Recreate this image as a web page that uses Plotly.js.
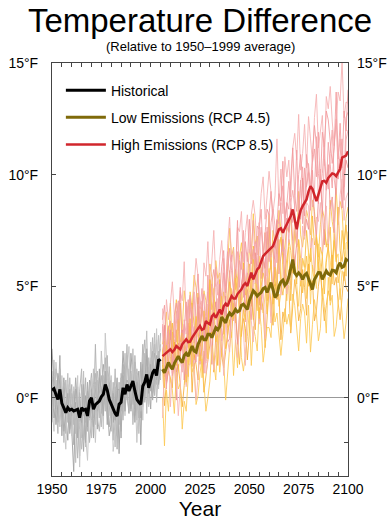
<!DOCTYPE html>
<html>
<head>
<meta charset="utf-8">
<script src="https://cdn.plot.ly/plotly-3.0.1.min.js"></script>
<style>html,body{margin:0;padding:0;background:#fff;}#chart{width:392px;height:522px;}</style>
</head>
<body>
<div id="chart"></div>
<script>
// ---------- DATA ----------
const histStart = 1950, histEnd = 2005;
const futStart = 2006, futEnd = 2100;

const historicalMean = [
 0.34,0.41,0.15,-0.07,0.38,-0.25,-0.45,-0.66,-0.44,-0.55,
 -0.51,-0.59,-0.55,-0.51,-0.89,-0.44,-0.55,-0.51,-0.81,-0.14,
 0.01,-0.51,-0.30,-0.22,-0.14,0.05,0.16,0.60,0.35,-0.07,
 -0.30,-0.51,-0.70,-0.81,-0.29,-0.20,0.45,0.16,0.60,0.31,
 0.50,0.75,0.31,-0.07,-0.20,-0.29,0.52,0.70,1.05,0.45,
 0.80,1.12,1.27,1.00,1.72,1.64];

const histMember1 = [1.2,-0.4,0.8,-1.1,0.5,-0.9,0.3,-1.6,-0.2,-1.0, -0.3,-2.1,0.4,-1.2,-2.6,0.6,-0.8,0.9,-1.5,0.2, 1.1,-0.9,2.4,-0.6,0.3,1.0,-0.5,1.8,0.2,-1.3, -0.4,-1.9,0.5,-2.3,0.7,-0.6,1.5,-0.2,1.9,0.4, 1.2,0.1,1.6,-1.0,0.8,-0.9,1.7,2.6,0.5,1.4, 0.3,2.1,0.9,2.6,1.2,2.9];
const histMember2 = [-0.8,1.7,-0.5,0.9,-1.3,0.4,-2.0,-0.3,1.1,-1.4, 0.2,-0.6,-2.9,0.5,-1.1,-1.8,1.2,-2.2,-0.4,-1.0, -0.6,1.3,-1.2,0.8,-0.9,2.1,0.6,-0.3,1.2,0.9, -1.5,0.3,-2.2,0.4,-1.2,1.1,-0.5,2.0,-0.1,1.3, -0.2,2.2,-0.8,1.0,-1.6,0.6,-0.4,1.1,3.0,-0.3, 1.8,0.5,2.4,0.6,2.8,1.0];
const histMember3 = [2.2,0.6,-1.2,-0.3,1.9,-1.7,0.9,-0.8,-1.9,0.4, -1.2,-3.3,-0.2,-1.8,0.2,-0.9,-2.4,0.1,-1.3,0.8, 0.4,-1.8,0.7,-1.4,1.3,-0.7,1.5,0.9,-1.2,0.6, 0.8,-1.1,-0.3,0.9,-2.5,0.2,2.1,0.6,0.2,-0.7, 2.0,0.9,-0.5,0.3,1.2,-2.1,1.5,-0.1,1.9,0.7, -0.5,1.6,2.0,0.8,1.9,2.2];
const histMember4 = [-0.4,-1.5,1.6,0.2,-0.7,1.0,-1.1,-2.3,0.6,-0.5, -1.7,0.5,-1.3,1.0,-3.1,0.1,-0.5,-1.6,-2.8,-0.3, 0.9,-0.4,-2.0,0.3,-0.2,0.5,-1.4,2.9,0.7,-0.8, 1.0,-2.4,-1.6,-0.9,0.6,-1.5,0.4,-0.8,1.2,2.3, -0.5,1.5,0.8,-2.0,0.1,1.3,-1.0,1.8,0.3,-0.4, 2.5,0.2,0.7,3.1,0.4,1.6];
const histMember5 = [0.9,1.0,-0.2,-1.6,1.3,-0.3,0.7,0.4,-1.1,-0.7, 0.6,-1.2,-0.9,-2.7,0.3,1.3,-1.9,-0.4,0.3,-2.0, -1.0,0.6,1.1,-0.9,-1.5,-0.2,0.8,-0.6,1.9,-0.4, -0.9,0.7,-0.8,-1.7,0.1,0.9,-0.4,1.3,0.5,-0.6, 0.7,-0.3,1.9,0.5,-0.9,0.2,2.4,-0.2,1.3,1.1, 1.2,2.7,0.1,1.5,2.1,0.8];
const histMember6 = [-1.1,0.2,1.3,0.7,-0.4,-1.2,-0.6,0.8,-0.9,0.9, -0.8,0.3,-1.6,-0.5,-1.4,-2.3,0.2,-1.1,-0.6,0.4, -1.8,0.1,0.5,1.2,-0.5,-1.3,1.0,0.4,-0.7,1.4, -0.2,-0.8,1.3,-1.1,-0.7,0.5,-1.0,0.9,2.4,-0.1, 1.1,-1.2,0.4,1.3,0.6,-0.6,0.9,2.0,-0.7,1.8, 0.9,1.3,2.9,-0.2,1.4,2.4];
const histMember7 = [0.5,-0.9,-0.3,1.1,0.6,-0.1,-1.5,-0.6,0.2,-1.6, -0.4,-0.7,0.9,-0.6,-0.8,-1.1,0.6,-2.0,0.7,-0.9, 0.2,-1.3,-0.4,-0.2,0.9,0.4,-0.8,1.2,-0.3,-1.7, -1.2,0.2,-1.0,0.3,0.4,-1.8,1.0,-0.6,0.8,0.6, -0.6,0.5,-1.1,0.7,-0.3,1.6,-0.2,0.6,2.2,0.2, 1.5,-0.1,1.2,1.9,0.6,1.3];

const lowMean = [
 1.28,1.13,1.35,1.58,
 1.42,1.28,1.55,1.75,1.87,1.70,1.58,1.90,2.00,1.87,
 2.10,2.32,2.10,2.05,2.40,2.60,2.77,2.60,2.60,2.85,
 2.85,2.70,2.95,3.14,3.05,3.20,3.62,3.50,3.36,3.65,
 3.80,3.70,3.80,3.96,3.85,3.90,4.15,4.20,4.05,3.96,
 4.35,4.60,4.80,4.70,4.56,4.65,4.72,4.90,4.95,4.72,
 4.95,5.16,4.85,4.50,4.60,5.00,5.20,5.28,5.05,5.15,
 5.40,5.80,6.20,5.60,5.48,5.60,5.50,5.31,5.50,5.58,
 5.35,5.10,4.86,5.30,5.50,5.62,5.60,5.31,5.50,5.68,
 5.55,5.50,5.72,5.70,5.61,5.90,6.05,5.85,5.90,6.20,
 6.13];

const highMean = [
 1.87,1.95,2.02,2.10,
 2.17,2.05,2.15,2.32,2.22,2.17,2.40,2.50,2.62,2.50,
 2.52,2.70,2.85,2.99,3.10,3.22,3.05,3.10,3.44,3.35,
 3.29,3.65,3.75,3.59,3.80,3.96,3.74,4.10,4.22,4.11,
 4.35,4.56,4.45,4.45,4.65,4.75,4.86,5.05,5.14,5.01,
 5.30,5.61,5.31,5.55,5.75,5.85,6.10,6.35,6.45,6.55,
 6.62,6.70,6.80,7.05,7.30,7.55,7.60,7.40,7.60,7.77,
 7.95,8.15,8.44,8.00,7.55,8.05,8.40,8.59,8.75,8.89,
 9.25,9.48,9.35,9.10,8.81,9.10,9.40,9.70,9.72,9.63,
 9.85,9.95,10.05,10.02,9.93,10.10,10.25,10.76,10.80,10.85,
 11.05];

const highMember1 = [4.0,2.0,4.4,3.5, 4.25,5.2,3.65,2.5,3.45,4.8,4.35,6.1,3.45,4.1, 4.05,3.35,4.95,6.25,5.45,4.15,3.65,6.05,5.45,7.0, 4.8,6.4,7.5,5.3,4.6,6.2,7.05,5.75,4.25,6.9, 8.1,6.1,6.65,5.05,7.65,7.45,8.35,6.1,7.4,8.2, 6.5,8.2,8.85,8.1,6.4,7.75,9.15,9.9,8.0,9.05, 10.15,9.2,8.3,9.05,11.6,8.6,10.25,8.25,10.8,9.9, 10.65,9.0,11.2,11.85,10.65,12.7,10.2,10.95,12.25,10.3, 12.6,11.6,10.55,12.55,13.6,11.2,12.05,12.65,10.4,13.5, 12.95,13.95,12.4,11.3,12.3,13.7,13.3,15.1,12.55,13.25, 13.2];
const highMember2 = [3.5,4.15,2.2,3.2, 3.3,1.55,3.7,4.25,3.0,4.95,2.4,3.05,4.3,2.25, 4.45,3.45,2.45,4.45,5.55,3.15,4.05,4.65,2.45,5.5, 3.45,5.15,5.75,4.95,3.25,4.55,5.9,6.6,4.7,5.65, 6.7,5.7,4.75,5.45,7.95,4.95,6.55,4.5,7.0,6.1, 8.0,6.0,6.65,5.1,7.7,7.55,8.45,6.3,7.6,8.45, 8.2,9.25,7.75,6.7,7.75,9.15,8.8,10.6,8.05,8.75, 8.45,10.1,11.2,9.05,8.35,10.0,10.9,9.65,8.15,10.9, 10.05,9.35,10.9,12.2,11.35,10.05,9.5,11.9,11.25,12.85, 12.45,11.45,10.5,11.2,13.7,10.7,12.3,10.3,12.85,11.95, 13.8];
const highMember3 = [3.2,0.95,2.2,3.0, 1.85,1.1,2.65,3.9,3.05,1.7,1.15,3.5,2.85,4.4, 2.05,3.65,4.75,2.55,1.85,3.45,4.35,3.05,1.55,4.2, 4.1,5.1,3.6,2.5,3.5,4.9,4.45,6.25,3.65,4.3, 5.5,4.5,3.45,5.45,6.55,4.15,5.05,5.6,3.4,6.5, 5.8,4.1,6.35,7.0,5.8,7.85,5.35,6.1,7.4,5.45, 8.25,6.3,6.9,5.35,8.0,7.8,8.75,6.55,7.9,8.7, 6.95,8.7,9.3,8.55,6.85,8.2,9.6,10.35,8.45,9.5, 10.5,9.5,8.55,9.25,11.7,8.7,10.25,8.25,10.7,9.8, 9.35,10.95,12.0,9.8,9.1,10.7,11.6,10.3,8.85,11.55, 12.0];
const highMember4 = [1.5,3.25,0.6,1.3, 3.05,1.0,1.55,-0.1,2.45,2.2,3.05,0.8,2.05,2.8, 3.2,2.2,1.3,2.0,4.5,1.5,3.1,1.1,3.6,2.65, 3.2,1.5,3.7,4.3,3.1,5.1,2.55,3.25,4.55,2.5, 2.65,4.35,4.9,4.1,2.4,3.7,5.1,5.75,3.85,4.85, 4.2,3.5,5.15,6.5,5.7,4.45,3.95,6.4,5.8,7.45, 6.7,5.75,4.75,6.8,7.95,5.55,6.5,7.1,4.95,8.05, 7.45,8.5,7.0,5.95,6.95,8.4,8.0,9.85,7.25,8.0, 7.55,9.15,10.2,8.0,7.25,8.85,9.7,8.4,6.85,9.55, 10.45,8.45,9.0,7.4,10.0,9.8,10.7,8.5,9.85,10.65, 10.3];
const highMember5 = [-0.9,1.45,0.8,2.4, -0.4,1.25,1.8,0.95,-0.8,0.45,1.8,2.45,0.5,1.45, 1.5,2.5,1.0,-0.1,0.9,2.3,1.9,3.7,1.1,1.75, 3.15,2.15,1.25,1.95,4.45,1.45,3.0,1.0,3.5,2.55, 2.05,3.65,4.7,2.5,1.8,3.4,4.3,2.95,1.45,4.15, 4.45,3.45,2.5,4.55,5.65,3.3,4.2,4.85,2.65,5.8, 5.0,3.35,5.55,6.2,5.05,7.05,4.6,5.3,6.65,4.65, 5.5,4.85,6.45,7.8,7.0,5.75,5.25,7.7,7.1,8.75, 8.6,6.6,7.15,5.55,8.1,7.9,8.75,6.55,7.8,8.6, 6.65,8.35,8.9,8.1,6.4,7.7,9.1,9.8,7.95,8.95, 9.2];
const highMember6 = [3.3,1.95,0.4,3.1, 3.45,2.4,1.35,3.3,4.35,1.9,2.75,3.3,1.05,4.1, 4.6,2.6,3.2,1.6,4.2,4.0,4.9,2.7,4.0,4.75, 3.65,2.95,4.55,5.85,5.05,3.75,3.2,5.6,5.0,6.55, 5.4,6.4,4.85,3.75,4.75,6.15,5.75,7.5,4.9,5.6, 5.2,6.8,7.95,5.8,5.1,6.75,7.65,6.4,4.9,7.65, 6.1,7.85,8.45,7.7,6.05,7.35,8.8,9.5,7.65,8.65, 9.7,8.75,7.85,8.6,11.1,8.15,9.75,7.8,10.3,9.45, 10.1,8.4,10.55,11.15,9.9,11.9,9.35,10.05,11.3,9.3, 11.45,10.45,9.4,11.4,12.5,10.1,11.0,11.6,9.45,12.55, 12.8];

const lowMember1 = [2.4,2.95,3.85,2.2, 4.25,2.1,3.35,4.4,3.75,2.5,3.05,4.8,3.95,2.7, 4.75,4.0,5.5,4.95,3.85,2.75,4.2,4.8,4.35,2.95, 6.0,5.4,4.35,6.15,5.35,5.6,3.5,4.75,4.25,5.9, 7.6,6.3,6.75,4.85,5.3,6.3,6.95,5.85,4.6,5.2, 6.65,6.2,8.25,6.9,7.25,6.1,5.35,6.25,7.4,6.6, 8.2,5.75,7.5,7.05,6.45,8.4,7.55,6.0,6.75,7.65, 7.4,8.2,6.3,8.0,6.75,9.25,7.3,6.75,7.55,8.4, 8.0,7.3,8.85,8.35,7.3,6.3,7.75,8.45,8.05,6.75, 7.2,8.85,7.9,7.35,9.4,7.75,8.8,8.4,6.65,8.05, 8.55];
const lowMember2 = [2.1,2.55,0.75,3.2, 2.6,3.35,1.4,3.05,1.8,4.25,2.3,1.75,2.5,3.35, 2.6,4.25,3.25,2.7,4.7,3.0,4.05,3.55,1.8,3.1, 5.3,2.8,4.55,4.05,3.35,5.3,4.4,2.85,3.55,4.4, 5.7,3.5,4.75,5.75,5.1,3.8,4.35,6.05,5.2,3.9, 6.0,5.25,6.8,6.25,5.2,4.15,5.6,6.2,5.75,4.35, 7.65,6.4,6.85,5.0,5.5,6.55,7.2,6.15,4.9,5.6, 7.1,6.6,5.6,7.5,6.75,7.05,5.0,6.25,5.85,7.5, 6.5,6.1,8.15,6.85,7.2,6.1,5.35,6.35,7.55,6.85, 6.9,7.65,5.7,7.35,6.1,8.55,6.6,6.1,6.85,7.75, 6.65];
const lowMember3 = [1.6,2.95,0.85,1.3, 3.4,2.15,2.6,0.75,1.2,2.25,2.9,1.85,0.6,1.25, 3.35,2.8,1.7,3.55,2.75,2.95,0.9,2.1,1.65,3.25, 3.35,2.85,4.9,3.5,3.8,2.65,1.85,2.8,3.9,3.15, 3.3,4.9,3.95,3.35,5.4,3.7,4.75,4.25,2.5,3.8, 4.7,5.45,3.5,5.15,3.9,6.35,4.4,3.8,4.55,5.35, 5.8,3.65,4.9,5.95,5.35,4.1,4.65,6.4,5.55,4.35, 5.75,5.05,6.65,6.15,5.1,4.1,5.55,6.2,5.8,4.45, 6.6,4.2,5.95,5.55,4.9,6.9,6.05,4.55,5.35,6.25, 6.7,6.15,5.1,6.95,6.2,6.45,4.4,5.7,5.25,6.95, 6.95];
const lowMember4 = [1.5,-0.35,0.65,1.2, 0.9,0.45,2.5,1.15,1.5,0.35,-0.4,0.55,1.7,0.95, 2.7,0.25,1.95,1.5,0.8,2.7,1.85,0.25,1.0,1.8, 2.4,3.1,1.15,2.75,1.45,3.9,1.9,1.35,2.05,2.9, 3.5,2.7,4.25,3.65,2.6,1.5,2.95,3.55,3.1,1.7, 2.9,4.55,3.6,3.05,5.1,3.45,4.5,4.0,2.25,3.55, 4.85,4.3,3.25,5.1,4.4,4.65,2.6,3.85,3.4,5.1, 5.0,2.9,4.2,5.3,4.65,3.45,4.0,5.75,4.95,3.7, 6.0,4.8,5.25,3.45,3.9,5.0,5.65,4.65,3.45,4.15, 4.8,4.35,6.4,5.05,5.4,4.25,3.5,4.5,5.65,4.95, 4.75];
const lowMember5 = [0.0,-2.15,0.35,-0.6, 0.9,0.35,-0.7,1.15,0.4,0.65,-1.4,-0.15,-0.6,1.05, 2.4,1.15,1.55,-0.3,0.1,1.1,1.75,0.65,-0.6,0.0, 0.75,2.35,1.4,0.8,2.8,1.15,2.15,1.7,-0.1,1.25, 2.25,2.95,1.0,2.6,1.35,3.75,1.8,1.2,1.95,2.75, 3.9,1.45,3.2,2.75,2.1,4.05,3.2,1.6,2.35,3.15, 3.15,2.7,4.75,3.4,3.8,2.65,1.9,2.85,4.0,3.3, 3.75,3.05,4.65,4.15,3.1,2.1,3.55,4.2,3.8,2.45, 4.15,2.05,3.3,4.4,3.75,2.55,3.1,4.9,4.1,2.9, 5.4,4.15,4.6,2.75,3.2,4.25,4.9,3.9,2.65,3.35, 4.45];
const lowMember6 = [2.1,0.45,2.35,1.6, 1.3,2.95,2.0,1.45,3.5,1.85,2.9,2.45,0.7,2.05, 3.55,1.4,2.6,3.65,2.95,1.65,2.2,3.9,3.05,1.75, 5.25,3.95,4.4,2.5,2.9,3.95,4.55,3.5,2.2,2.85, 5.2,4.6,3.55,5.35,4.6,4.8,2.75,3.95,3.5,5.1, 5.4,4.65,6.2,5.65,4.6,3.55,5.0,5.6,5.15,3.75, 5.4,6.15,4.2,5.85,4.65,7.1,5.15,4.6,5.35,6.25, 6.75,4.35,6.15,5.75,5.1,7.1,6.25,4.7,5.5,6.35, 5.0,6.7,5.75,5.25,7.3,5.7,6.75,6.35,4.65,6.05, 6.9,4.75,6.0,7.05,6.4,5.15,5.7,7.5,6.65,5.45, 7.45];

const seriesNames = ['Historical', 'Low Emissions (RCP 4.5)', 'High Emissions (RCP 8.5)'];
const yTickVals = [-2, 0, 5, 10, 15];
const yTickText = ['', '0°F', '5°F', '10°F', '15°F'];
const xTickLabelYears = [1950, 1975, 2000, 2025, 2050, 2075, 2100];

// ---------- BUILD ----------
function yearRange(a, b) { const r = []; for (let y = a; y <= b; y++) r.push(y); return r; }
const histYears = yearRange(histStart, histEnd);
const futYears = yearRange(futStart, futEnd);
const xTickVals = yearRange(0, 30).map(i => 1950 + i * 5);
const xTickText = xTickVals.map(v => xTickLabelYears.includes(v) ? String(v) : '');

const FONT = 'Liberation Sans, Arial, Helvetica, sans-serif';
const traces = [];
const grayCols = ['#b4b4b4', '#c0c0c0', '#a8a8a8', '#c8c8c8', '#b8b8b8', '#bcbcbc', '#acacac'];
[histMember1, histMember2, histMember3, histMember4, histMember5, histMember6, histMember7].forEach((m, i) => {
  traces.push({x: histYears, y: m, type: 'scatter', mode: 'lines', line: {color: grayCols[i], width: 1}, showlegend: false, hoverinfo: 'skip'});
});
const highMembers = [highMember1, highMember2, highMember3, highMember4, highMember5, highMember6];
const lowMembers = [lowMember1, lowMember2, lowMember3, lowMember4, lowMember5, lowMember6];
const pinkCols = ['#f6b0b2', '#f29a9c', '#f4a6a8', '#ef8f91', '#f7b4b4', '#f3a0a3'];
const yelCols = ['#fcc44a', '#f9b93c', '#ffd164', '#f7ae3a', '#fdc955', '#fbbf45'];
for (let i = 0; i < 6; i++) {
  traces.push({x: futYears, y: lowMembers[i], type: 'scatter', mode: 'lines', line: {color: yelCols[i], width: 1}, opacity: 0.85, showlegend: false, hoverinfo: 'skip'});
  traces.push({x: futYears, y: highMembers[i], type: 'scatter', mode: 'lines', line: {color: pinkCols[i], width: 1}, opacity: 0.85, showlegend: false, hoverinfo: 'skip'});
}
traces.push({x: histYears, y: historicalMean, type: 'scatter', mode: 'lines', name: seriesNames[0], legendgroup: 'a', line: {color: '#000000', width: 3}});
traces.push({x: futYears, y: lowMean, type: 'scatter', mode: 'lines', name: seriesNames[1], legendgroup: 'b', line: {color: '#7f6a0a', width: 3}});
traces.push({x: futYears, y: highMean, type: 'scatter', mode: 'lines', name: seriesNames[2], legendgroup: 'c', line: {color: '#d1262c', width: 2.5}});
traces.push({x: [1950], y: [null], yaxis: 'y2', type: 'scatter', mode: 'lines', showlegend: false, hoverinfo: 'skip'});

const layout = {
  width: 392, height: 522,
  margin: {l: 52, r: 44, t: 63, b: 46, pad: 0},
  paper_bgcolor: '#ffffff', plot_bgcolor: '#ffffff',
  font: {family: FONT, color: '#000000', size: 14},
  showlegend: true,
  title: {text: 'Temperature Difference', font: {family: FONT, size: 33, color: '#000'}, x: 0.5, xanchor: 'center', xref: 'paper', y: 0.983, yanchor: 'top', yref: 'container'},
  annotations: [{text: '(Relative to 1950–1999 average)', xref: 'paper', yref: 'paper', x: 0.5, y: 1.041, xanchor: 'center', yanchor: 'middle', showarrow: false, font: {family: FONT, size: 13, color: '#000'}}],
  legend: {x: 0.03, y: 0.972, xanchor: 'left', yanchor: 'top', bgcolor: 'rgba(0,0,0,0)', borderwidth: 0, itemwidth: 40, font: {family: FONT, size: 14, color: '#000'}, traceorder: 'grouped', tracegroupgap: 6},
  xaxis: {range: [1950, 2100], tickmode: 'array', tickvals: xTickVals, ticktext: xTickText, ticks: 'inside', ticklen: 4, tickwidth: 1, tickcolor: '#444', showline: true, linecolor: '#444', linewidth: 1, mirror: 'ticks', showgrid: false, zeroline: false, tickfont: {size: 14}, ticklabelstandoff: 0, title: {text: 'Year', font: {size: 21}, standoff: 4}},
  yaxis: {range: [-3.5, 15], tickmode: 'array', tickvals: yTickVals, ticktext: yTickText, ticks: 'inside', ticklen: 4, tickwidth: 1, tickcolor: '#444', showline: true, linecolor: '#444', linewidth: 1, mirror: 'ticks', showgrid: false, zeroline: true, zerolinecolor: '#999999', zerolinewidth: 1, tickfont: {size: 14}, ticklabelstandoff: 10},
  yaxis2: {range: [-3.5, 15], overlaying: 'y', side: 'right', tickmode: 'array', tickvals: yTickVals, ticktext: yTickText, ticks: '', showline: false, showgrid: false, zeroline: false, tickfont: {size: 14}, ticklabelstandoff: 8}
};

Plotly.newPlot('chart', traces, layout, {displayModeBar: false, staticPlot: true});
</script>
</body>
</html>
